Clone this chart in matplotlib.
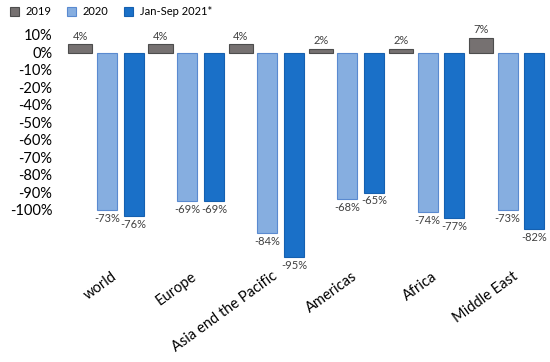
import numpy as np
import matplotlib.pyplot as plt
from matplotlib.transforms import ScaledTranslation

plt.rcParams['font.family'] = ['Lato', 'DejaVu Sans']

# data
regions = ["world", "Europe", "Asia end the Pacific", "Americas", "Africa", "Middle East"]
y2019 = [4, 4, 4, 2, 2, 7]
y2020 = [-73, -69, -84, -68, -74, -73]
y2021 = [-76, -69, -95, -65, -77, -82]
series_names = ["2019", "2020", "Jan-Sep 2021*"]
axis_labels = ["10%", "0%", "-10%", "-20%", "-40%", "-50%", "-60%",
               "-70%", "-80%", "-90%", "-100%"]

gray = "#767171"
light = "#86aee0"
dark = "#1a70c8"

fig = plt.figure(figsize=(5.5, 3.62), dpi=100)
ax = fig.add_axes([0.1, 0.26, 0.893, 0.659])

x = np.arange(len(regions))
step = 1 / 3
b1 = ax.bar(x - step, y2019, width=0.3, color=gray, edgecolor="#4d4d4d", linewidth=0.8, label=series_names[0])
b2 = ax.bar(x, y2020, width=0.25, color=light, edgecolor="#5a8ad0", linewidth=0.8, label=series_names[1])
b3 = ax.bar(x + step, y2021, width=0.25, color=dark, edgecolor="#1560b0", linewidth=0.8, label=series_names[2])

for bars in (b1, b2, b3):
    ax.bar_label(bars, fmt="%.0f%%", padding=2, fontsize=8, color="#404040")

ax.set_xlim(-0.65, 5.48)
ax.set_ylim(-100, 11)
ax.set_yticks([])
ax.set_xticks(x)
ax.set_xticklabels(regions, rotation=36, ha="right", va="top",
                   rotation_mode="anchor", fontsize=10.5)
ax.tick_params(axis="x", length=0, pad=1)
offset = ScaledTranslation(3 / 72, 0, fig.dpi_scale_trans)
for lab in ax.get_xticklabels():
    lab.set_transform(lab.get_transform() + offset)
for s in ax.spines.values():
    s.set_visible(False)

# y labels as shown in the source picture
ax2 = ax.twinx()
ax2.yaxis.tick_left()
ax2.set_ylim(13.31, -0.32)
ax2.set_yticks(range(len(axis_labels)))
ax2.set_yticklabels(axis_labels, fontsize=10.5)
ax2.tick_params(axis="y", length=0, pad=2)
for s in ax2.spines.values():
    s.set_visible(False)

fig.legend(handles=[b1, b2, b3], loc="upper left", bbox_to_anchor=(0.0, 1.01),
           ncol=3, frameon=False, fontsize=8, handlelength=0.8, handleheight=0.8,
           handletextpad=0.6, columnspacing=1.4)

fig.savefig("out.png", dpi=100)
